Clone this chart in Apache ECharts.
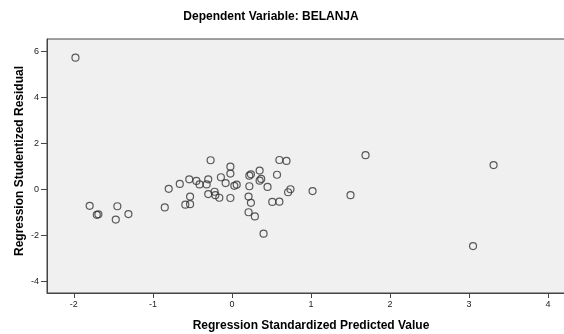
<!DOCTYPE html>
<html>
<head>
<meta charset="utf-8">
<script src="https://cdn.jsdelivr.net/npm/echarts@6/dist/echarts.min.js"></script>
<style>html,body{margin:0;padding:0;background:#fff}#c{width:564px;height:334px}</style>
</head>
<body>
<div id="c"></div>
<script>
const predicted = [-1.98,-1.80,-1.71,-1.69,-1.45,-1.47,-1.31,-0.85,-0.80,-0.66,-0.54,-0.53,-0.59,-0.53,-0.45,-0.41,-0.32,-0.30,-0.27,-0.30,-0.22,-0.21,-0.16,-0.14,-0.08,-0.02,-0.02,-0.02,0.03,0.06,0.22,0.24,0.35,0.35,0.37,0.22,0.45,0.57,0.60,0.69,0.21,0.24,0.21,0.29,0.40,0.51,0.60,0.71,0.74,1.02,1.50,1.69,3.31,3.05];
const residual = [5.74,-0.70,-1.09,-1.07,-0.72,-1.30,-1.06,-0.77,0.04,0.25,0.45,-0.30,-0.65,-0.63,0.38,0.23,0.23,0.45,1.28,-0.19,-0.09,-0.24,-0.35,0.54,0.29,1.00,0.70,-0.36,0.17,0.22,0.61,0.67,0.83,0.39,0.47,0.15,0.12,0.65,1.29,1.25,-0.30,-0.57,-0.98,-1.16,-1.91,-0.53,-0.52,-0.11,0.02,-0.06,-0.24,1.50,1.07,-2.45];
const xTicks = [-2,-1,0,1,2,3,4];
const yTicks = [-4,-2,0,2,4,6];
const titleText = 'Dependent Variable: BELANJA';
const xName = 'Regression Standardized Predicted Value';
const yName = 'Regression Studentized Residual';

const chart = echarts.init(document.getElementById('c'), null, {renderer:'canvas'});
const font = '"Liberation Sans", Arial, sans-serif';
chart.setOption({
  animation:false,
  backgroundColor:'#ffffff',
  title:{text:titleText,left:266,top:6,textAlign:'center',
    textStyle:{fontFamily:font,fontSize:12,fontWeight:'bold',color:'#000'}},
  grid:{left:47,top:39,width:528,height:254,outerBoundsMode:'none',containLabel:false,
    show:true,backgroundColor:'#f0f0f0',borderColor:'#444',borderWidth:1},
  xAxis:{type:'value',min:-2.34,max:4.34,
    name:xName,nameLocation:'middle',nameGap:27,nameMoveOverlap:false,
    nameTextStyle:{fontFamily:font,fontSize:12,fontWeight:'bold',color:'#000'},
    splitLine:{show:false},
    axisLine:{show:true,onZero:false,lineStyle:{color:'#444'}},
    axisTick:{show:true,length:5,lineStyle:{color:'#444'},customValues:xTicks},
    axisLabel:{customValues:xTicks,fontFamily:font,fontSize:9,color:'#222',margin:7}},
  yAxis:{type:'value',min:-4.49,max:6.55,
    name:yName,nameLocation:'middle',nameGap:21,nameRotate:90,nameMoveOverlap:false,
    nameTextStyle:{fontFamily:font,fontSize:12,fontWeight:'bold',color:'#000',padding:[0,0,0,10]},
    splitLine:{show:false},
    axisLine:{show:true,onZero:false,lineStyle:{color:'#444'}},
    axisTick:{show:true,length:6,lineStyle:{color:'#444'},customValues:yTicks},
    axisLabel:{customValues:yTicks,fontFamily:font,fontSize:9,color:'#222',margin:8}},
  series:[{type:'scatter',
    data:predicted.map((x,i)=>[x,residual[i]]),
    symbol:'circle',symbolSize:7,
    itemStyle:{color:'rgba(0,0,0,0)',borderColor:'#333',borderWidth:1.2}}]
});
</script>
</body>
</html>
